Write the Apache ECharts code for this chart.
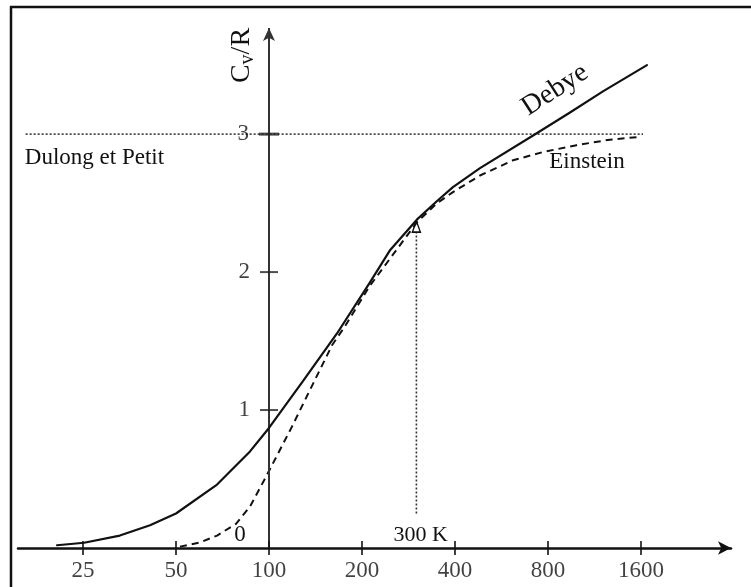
<!DOCTYPE html>
<html><head><meta charset="utf-8">
<script src="https://cdn.jsdelivr.net/npm/echarts@6/dist/echarts.min.js"></script>
<style>html,body{margin:0;padding:0;background:#fff}#c{width:751px;height:587px}</style>
</head><body><div id="c"></div>
<script>
// ---- data ----
const debyeT     = [20.6, 25.2, 32.9, 41.2, 50, 67.9, 86.8, 100, 128.8, 166, 212, 246, 301, 350, 394, 482, 716, 940, 1205, 1673];
const debyeCv    = [0.02, 0.038, 0.09, 0.165, 0.25, 0.46, 0.70, 0.87, 1.21, 1.555, 1.924, 2.156, 2.38, 2.515, 2.616, 2.754, 2.99, 3.155, 3.31, 3.50];
const einsteinT  = [51.5, 59.8, 67.9, 78.2, 86.8, 98.5, 118.7, 138.8, 160, 176.5, 212, 301, 350, 394, 482, 616, 770, 990, 1269, 1584];
const einsteinCv = [0.01, 0.04, 0.09, 0.175, 0.30, 0.53, 0.88, 1.19, 1.47, 1.61, 1.90, 2.36, 2.50, 2.58, 2.70, 2.81, 2.87, 2.92, 2.96, 2.98];
const dulongPetitT = [16.3, 1624];
const dulongPetitCv = 3;
const roomT = 300;
const roomLineCv = [0.25, 2.33];
const xTickLabels = [25, 50, 100, 200, 400, 800, 1600];
const yTickLabels = [1, 2, 3];
const yAxisAtT = 100;

const FONT = '"Liberation Serif", "Times New Roman", serif';
const INK = '#111';

const chart = echarts.init(document.getElementById('c'), null, {renderer: 'canvas'});

function txt(size, extra) {
  return Object.assign({fontFamily: FONT, fontSize: size, color: INK}, extra || {});
}

const option = {
  animation: false,
  backgroundColor: '#fff',
  grid: {left: 18, right: 20, top: 21, bottom: 39, containLabel: false, outerBoundsMode: 'none'},
  xAxis: {
    type: 'log', logBase: 2, min: 15.4, max: 3130,
    axisLine: {show: true, onZero: false, symbol: ['none', 'arrow'], symbolSize: [10, 13],
      lineStyle: {color: INK, width: 2.5}},
    axisTick: {show: false}, axisLabel: {show: false}, splitLine: {show: false}, minorTick: {show: false}
  },
  yAxis: {
    type: 'value', min: 0, max: 3.82,
    axisLine: {show: false}, axisTick: {show: false}, axisLabel: {show: false}, splitLine: {show: false}
  },
  graphic: [
    {type: 'line', shape: {x1: 10, y1: 7, x2: 751, y2: 7}, style: {stroke: INK, lineWidth: 2.5}, silent: true},
    {type: 'line', shape: {x1: 11, y1: 6, x2: 11, y2: 587}, style: {stroke: INK, lineWidth: 2.5}, silent: true}
  ],
  series: [
    {
      name: 'Debye', type: 'line', smooth: false, symbol: 'none', z: 5,
      data: debyeT.map((t, i) => [t, debyeCv[i]]),
      lineStyle: {color: INK, width: 2.2, join: 'round', cap: 'round'}
    },
    {
      name: 'Einstein', type: 'line', smooth: false, symbol: 'none', z: 4,
      data: einsteinT.map((t, i) => [t, einsteinCv[i]]),
      lineStyle: {color: INK, width: 2, type: [7, 5], join: 'round'}
    },
    {
      name: 'Dulong et Petit', type: 'line', symbol: 'none', z: 3,
      data: dulongPetitT.map(t => [t, dulongPetitCv]),
      lineStyle: {color: '#333', width: 1.6, type: [2, 2]}
    },
    {
      name: '300 K', type: 'line', symbol: 'none', z: 3,
      data: [[roomT, roomLineCv[0]], {value: [roomT, roomLineCv[1]], symbol: 'triangle', symbolSize: [8, 11]}],
      itemStyle: {color: '#fff', borderColor: INK, borderWidth: 1.5},
      lineStyle: {color: '#333', width: 1.6, type: [2, 2]}
    },
    {
      name: 'xTicks', type: 'scatter', z: 6, clip: false,
      data: xTickLabels.map(v => [v, 0]),
      symbol: 'rect', symbolSize: [2, 14], itemStyle: {color: INK},
      label: Object.assign({show: true, position: 'bottom', distance: 4, formatter: p => String(p.value[0])}, txt(23))
    },
    {
      name: 'yTicks', type: 'scatter', z: 6, clip: false,
      data: yTickLabels.map(v => ({value: [yAxisAtT, v], symbolSize: v === 3 ? [20, 3] : [18, 2]})),
      symbol: 'rect', itemStyle: {color: '#222'},
      label: Object.assign({show: true, position: 'left', distance: 10, formatter: p => String(p.value[1])}, txt(23)),
      markLine: {
        silent: true, symbol: ['none', 'arrow'], symbolSize: [9, 13], label: {show: false},
        lineStyle: {color: '#333', width: 2, type: 'solid'},
        emphasis: {disabled: true},
        data: [[{coord: [yAxisAtT, 0]}, {coord: [yAxisAtT, 3.77]}]]
      },
      markPoint: {
        silent: true, symbol: 'circle', symbolSize: 0,
        data: [
          {coord: [81.8, 3.57], label: Object.assign({show: true, position: 'inside', rotate: 90,
            formatter: '{c|C}{s|v}{c|/R}',
            rich: {c: txt(28, {lineHeight: 32}), s: txt(20, {lineHeight: 20, verticalAlign: 'bottom'})}}, txt(28))},
          {coord: [16.2, 2.83], label: Object.assign({show: true, position: 'right', distance: 0, formatter: 'Dulong et Petit'}, txt(23))},
          {coord: [1070, 2.80], label: Object.assign({show: true, position: 'inside', formatter: 'Einstein'}, txt(23))},
          {coord: [843, 3.32], label: Object.assign({show: true, position: 'inside', rotate: 33, formatter: 'Debye'}, txt(28))},
          {coord: [310, 0.094], label: Object.assign({show: true, position: 'inside', formatter: '300 K'}, txt(22))},
          {coord: [80.5, 0.094], label: Object.assign({show: true, position: 'inside', formatter: '0'}, txt(23))},
          {coord: [2446, -0.16], label: Object.assign({show: true, position: 'right', distance: 0, formatter: 'T(K)'}, txt(27))}
        ]
      }
    }
  ]
};
chart.setOption(option);
</script>
</body></html>
